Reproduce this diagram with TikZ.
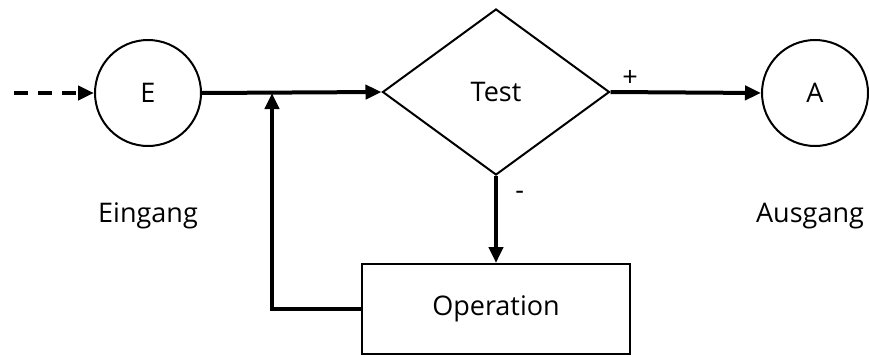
\documentclass[tikz,border=0pt]{standalone}
\usepackage{fontspec}
\setmainfont{Open Sans}
\usetikzlibrary{arrows.meta,shapes.geometric}
\begin{document}
\begin{tikzpicture}[x=1pt,y=-1pt,
  every node/.style={font=\fontsize{27}{32}\selectfont},
  state/.style={circle,draw,line width=2pt,minimum size=106pt,inner sep=0pt},
  flow/.style={line width=4pt,-{Triangle[length=16pt,width=14pt]}}]
\useasboundingbox (0,0) rectangle (869,356);
\node[state] (E) at (148,93) {E};
\node[state] (A) at (815,93) {A};
\node[diamond,draw,line width=2pt,minimum width=227pt,minimum height=166pt,inner sep=0pt] (T) at (496,92) {Test};
\node[draw,line width=2pt,minimum width=268pt,minimum height=90pt,inner sep=0pt] (O) at (496,309) {Operation};
\node (ein) at (148,216) {Eingang};
\node (aus) at (810,216) {Ausgang};
\coordinate (start) at (14,93);
\coordinate (join) at (272,93);
\draw[flow,dash pattern=on 14pt off 10pt] (start) -- (E.west);
\draw[flow] (E.east) -- (T.west);
\draw[flow] (T.east) -- node[above,pos=0.13,yshift=0pt] {+} (A.west);
\draw[flow] (T.south) -- node[right,pos=0.22,xshift=14pt] {-} (O.north);
\draw[flow] (O.west) -| (join);
\end{tikzpicture}
\end{document}
